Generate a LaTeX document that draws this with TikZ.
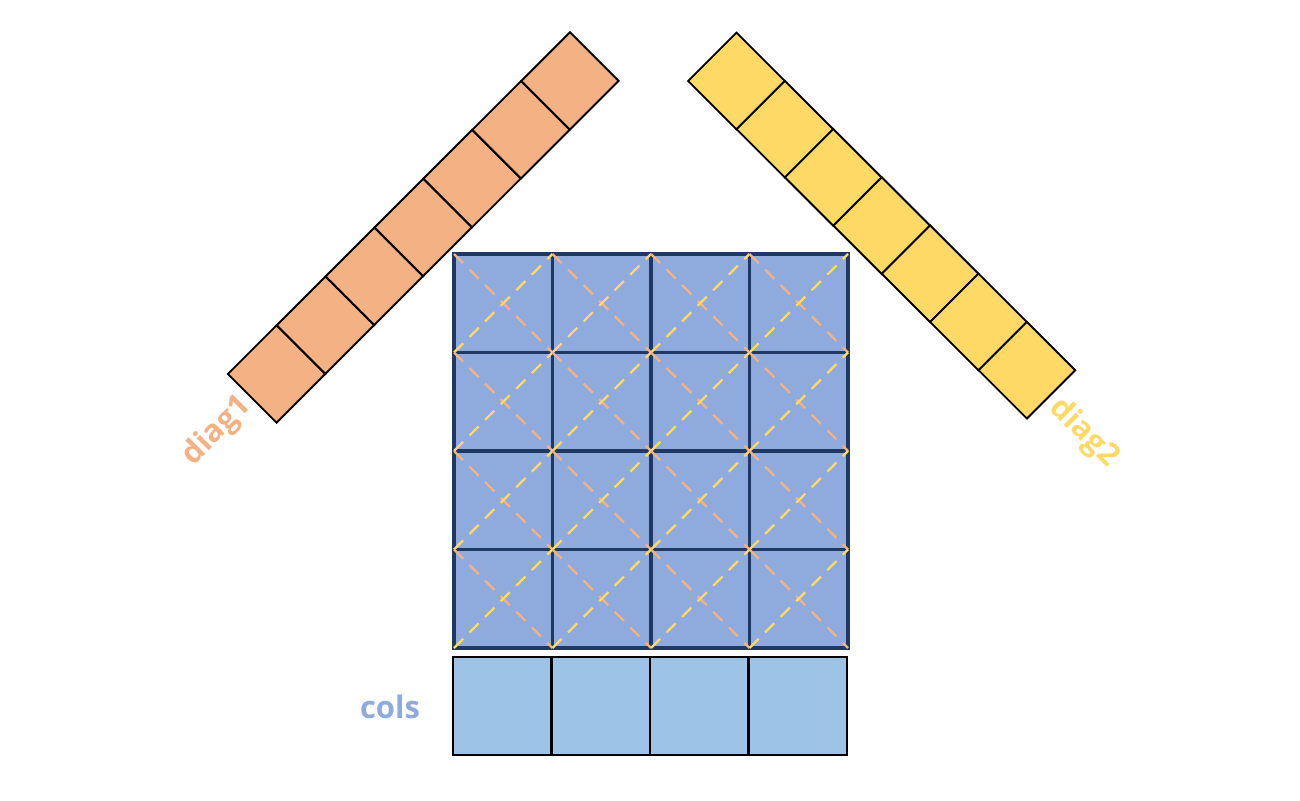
\documentclass[tikz,border=0pt]{standalone}
\usepackage{fontspec}
\setsansfont{Open Sans}
\definecolor{gfill}{HTML}{8FAADC}
\definecolor{navy}{HTML}{203864}
\definecolor{cfill}{HTML}{9DC3E6}
\definecolor{ofill}{HTML}{F4B183}
\definecolor{yfill}{HTML}{FFD966}
\tikzset{
  gridcell/.style={draw=navy, fill=gfill, line width=3.2pt, minimum size=98.5pt, inner sep=0pt, outer sep=0pt},
  colcell/.style={draw=black, fill=cfill, line width=2.2pt, minimum size=98.5pt, inner sep=0pt, outer sep=0pt},
  d1cell/.style={draw=black, fill=ofill, line width=1.9pt, minimum size=68.8pt, inner sep=0pt, outer sep=0pt, rotate=45},
  d2cell/.style={draw=black, fill=yfill, line width=1.9pt, minimum size=68.4pt, inner sep=0pt, outer sep=0pt, rotate=-45},
  odash/.style={draw=ofill, line width=2.4pt, dash pattern=on 13pt off 9pt},
  ydash/.style={draw=yfill, line width=2.4pt, dash pattern=on 13pt off 9pt},
  lbl/.style={font=\sffamily\bfseries\fontsize{31}{36}\selectfont, inner sep=0pt}
}
\begin{document}
\begin{tikzpicture}[x=1pt,y=-1pt]
\useasboundingbox (0,0) rectangle (1300,800);
% diag1 strip
\foreach \i in {0,...,6}{
  \node[d1cell] (d1-\i) at ({276.5+48.9*\i},{374-48.85*\i}) {};
}
% diag2 strip
\foreach \i in {0,...,6}{
  \node[d2cell] (d2-\i) at ({736.5+48.4*\i},{81+48.2*\i}) {};
}
% grid
\foreach \r in {0,...,3}{
  \foreach \c in {0,...,3}{
    \node[gridcell] (g-\r-\c) at ({454+98.5*(\c+0.5)},{254+98.5*(\r+0.5)}) {};
  }
}
\foreach \r in {0,...,3}{
  \foreach \c in {0,...,3}{
    \draw[odash] (g-\r-\c.north west) -- (g-\r-\c.south east);
    \draw[ydash] (g-\r-\c.south west) -- (g-\r-\c.north east);
  }
}
% cols
\foreach \c in {0,...,3}{
  \node[colcell] (c-\c) at ({453+98.5*(\c+0.5)},706) {};
}
% labels
\node[lbl, text=ofill, rotate=45] (l1) at (217,431) {diag1};
\node[lbl, text=yfill, rotate=-45] (l2) at (1084,433) {diag2};
\node[lbl, text=gfill] (l3) at (390,707) {cols};
\end{tikzpicture}
\end{document}
